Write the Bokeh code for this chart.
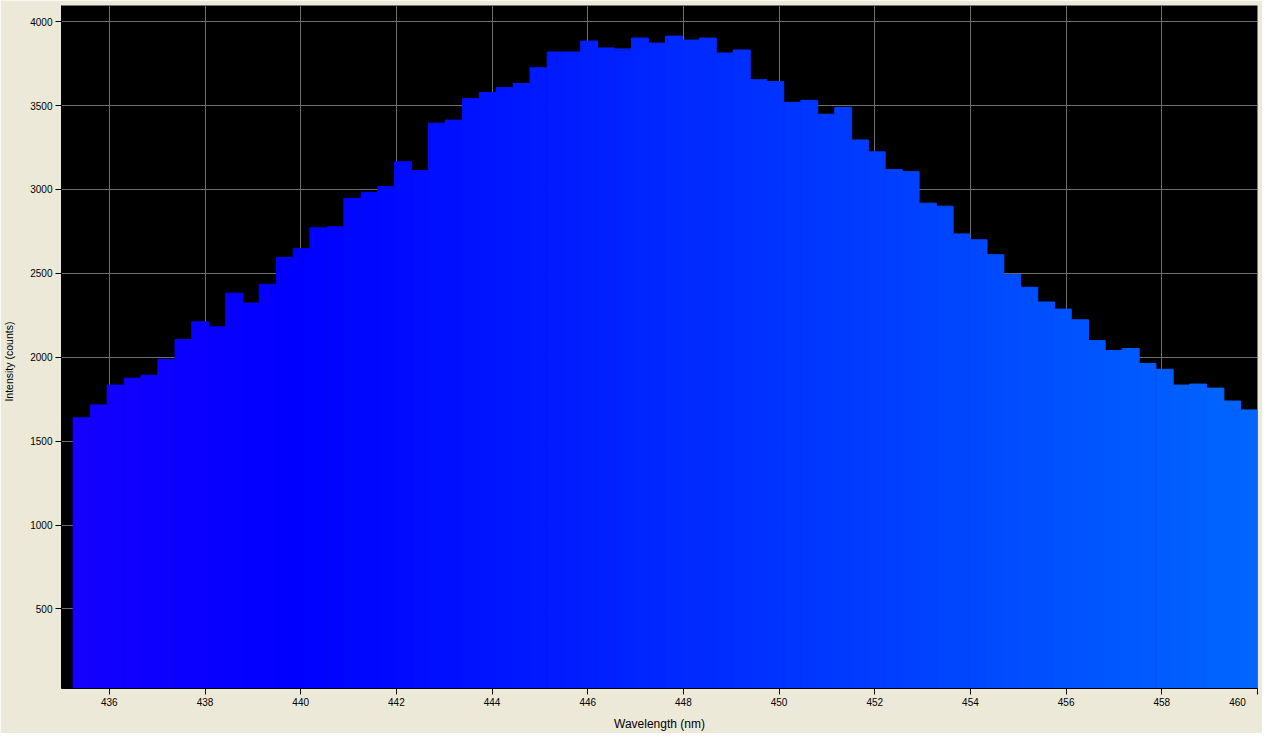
from bokeh.plotting import figure
from bokeh.models import Range1d, FixedTicker, ColumnDataSource
from bokeh.embed import file_html
from bokeh.resources import INLINE

# ---- data ----
wavelength_nm = [
    435.42, 435.78, 436.13, 436.49, 436.84, 437.19, 437.55, 437.90, 438.25, 438.61,
    438.96, 439.31, 439.67, 440.02, 440.37, 440.73, 441.08, 441.44, 441.79, 442.14,
    442.50, 442.85, 443.20, 443.56, 443.91, 444.26, 444.62, 444.97, 445.33, 445.68,
    446.03, 446.39, 446.74, 447.09, 447.45, 447.80, 448.15, 448.51, 448.86, 449.22,
    449.57, 449.92, 450.28, 450.63, 450.98, 451.34, 451.69, 452.04, 452.40, 452.75,
    453.11, 453.46, 453.81, 454.17, 454.52, 454.87, 455.23, 455.58, 455.93, 456.29,
    456.64, 457.00, 457.35, 457.70, 458.06, 458.41, 458.76, 459.12, 459.47, 459.82,
]
intensity_counts = [
    1639, 1716, 1834, 1875, 1893, 1987, 2105, 2211, 2181, 2382,
    2323, 2435, 2594, 2647, 2771, 2777, 2947, 2983, 3018, 3165,
    3112, 3395, 3413, 3542, 3578, 3607, 3631, 3725, 3819, 3819,
    3884, 3843, 3837, 3902, 3872, 3914, 3890, 3902, 3813, 3831,
    3654, 3643, 3519, 3531, 3448, 3489, 3295, 3224, 3118, 3106,
    2918, 2900, 2735, 2700, 2611, 2494, 2417, 2329, 2287, 2223,
    2099, 2040, 2052, 1963, 1928, 1834, 1840, 1816, 1739, 1686,
]
x_ticks = [436, 438, 440, 442, 444, 446, 448, 450, 452, 454, 456, 458, 460]
y_ticks = [500, 1000, 1500, 2000, 2500, 3000, 3500, 4000]


def wl_color(w):
    # approximate visible-spectrum colour for a wavelength (style only)
    if w < 440:
        r, g, b = (440 - w) / 60.0, 0.0, 1.0
    else:
        r, g, b = 0.0, (w - 440) / 50.0, 1.0
    return "#%02x%02x%02x" % (int(round(r * 255)), int(round(g * 255)), int(round(b * 255)))


colors = [wl_color(w) for w in wavelength_nm]
src = ColumnDataSource(dict(x=wavelength_nm, top=intensity_counts, color=colors))

BG = "#ECE9D8"
FONT = "Liberation Sans"
FSP = "\u2007"  # figure space, used to keep edge labels inside the window

p = figure(width=1262, height=733, output_backend="svg", toolbar_location=None,
           x_range=Range1d(435.0, 460.0), y_range=Range1d(26, 4096),
           background_fill_color="black", border_fill_color=BG,
           min_border_left=60, min_border_right=5, min_border_top=5, min_border_bottom=45)
p.outline_line_color = None

p.vbar(x="x", top="top", bottom=0, width=0.3536, fill_color="color",
       line_color="color", line_width=1, source=src)

# grid
for g in (p.xgrid, p.ygrid):
    g.grid_line_color = "#6e6e6e"
    g.grid_line_width = 1
p.xgrid.ticker = FixedTicker(ticks=x_ticks)
p.ygrid.ticker = FixedTicker(ticks=y_ticks)

# axes
xa = p.xaxis[0]
ya = p.yaxis[0]
xa.ticker = FixedTicker(ticks=x_ticks)
ya.ticker = FixedTicker(ticks=y_ticks)
for a in (xa, ya):
    a.axis_line_color = "black"
    a.major_tick_line_color = "black"
    a.major_tick_in = 0
    a.major_tick_out = 6
    a.minor_tick_line_color = None
    a.major_label_text_font = FONT
    a.major_label_text_font_size = "10px"
    a.major_label_text_color = "black"
    a.axis_label_text_font = FONT
    a.axis_label_text_font_style = "normal"
    a.axis_label_text_color = "black"
xa.major_label_standoff = 2
ya.major_label_standoff = 3
xa.major_label_overrides = {460: "460" + FSP * 3}
xa.axis_label = "Wavelength (nm)"
xa.axis_label_text_font_size = "12px"
xa.axis_label_standoff = 6
ya.axis_label = "Intensity (counts)" + FSP * 5
ya.axis_label_text_font_size = "10.5px"
ya.axis_label_standoff = 12

open("out.html", "w").write(file_html(p, INLINE))
